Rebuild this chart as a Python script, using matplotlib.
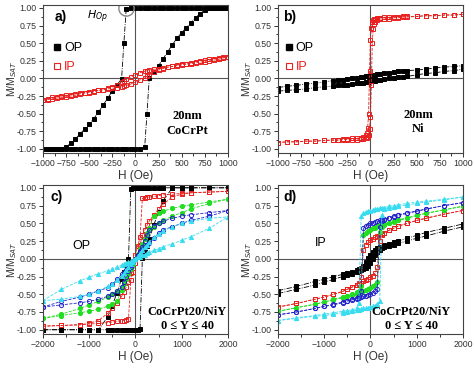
import numpy as np
import matplotlib
matplotlib.use('Agg')
import matplotlib.pyplot as plt
from matplotlib.lines import Line2D

plt.rcParams['font.family'] = ['Liberation Sans', 'DejaVu Sans']

# ---- panel a: 20nm CoCrPt (H in Oe, M/Msat) ----
h_a = [-1000, -950, -900, -850, -800, -750, -700, -650, -600, -550, -500, -450, -400, -350,
       -300, -250, -200, -150, -125, -100, -50, 0, 50, 100, 125, 150, 200, 250, 300, 350,
       400, 450, 500, 550, 600, 650, 700, 750, 800, 850, 900, 950, 1000]
op_a_down = [-1, -1, -1, -1, -1, -0.97, -0.92, -0.86, -0.79, -0.72, -0.65, -0.57, -0.48, -0.38,
             -0.28, -0.18, -0.09, -0.01, 0.5, 0.98, 1, 1, 1, 1, 1, 1, 1, 1, 1, 1,
             1, 1, 1, 1, 1, 1, 1, 1, 1, 1, 1, 1, 1]
op_a_up = [-1, -1, -1, -1, -1, -1, -1, -1, -1, -1, -1, -1, -1, -1,
           -1, -1, -1, -1, -1, -1, -1, -1, -1, -0.98, -0.5, 0.01, 0.09, 0.18, 0.28, 0.38,
           0.48, 0.57, 0.65, 0.72, 0.79, 0.86, 0.92, 0.97, 1, 1, 1, 1, 1]
ip_a_down = [-0.31, -0.3, -0.29, -0.28, -0.27, -0.26, -0.25, -0.24, -0.22, -0.21, -0.2, -0.19,
             -0.17, -0.16, -0.14, -0.12, -0.09, -0.05, -0.03, -0.01, 0.02, 0.05, 0.08, 0.1,
             0.11, 0.12, 0.13, 0.14, 0.15, 0.16, 0.17, 0.18, 0.19, 0.2, 0.21, 0.22, 0.23,
             0.24, 0.25, 0.26, 0.27, 0.29, 0.31]
ip_a_up = [-0.31, -0.29, -0.27, -0.26, -0.25, -0.24, -0.23, -0.22, -0.21, -0.2, -0.19, -0.18,
           -0.17, -0.16, -0.15, -0.14, -0.13, -0.12, -0.11, -0.1, -0.08, -0.05, -0.02, 0.01,
           0.03, 0.05, 0.09, 0.12, 0.14, 0.16, 0.17, 0.19, 0.2, 0.21, 0.22, 0.24, 0.25,
           0.26, 0.27, 0.28, 0.29, 0.3, 0.31]
h_op = -100  # field marked by the circle

# ---- panel b: 20nm Ni ----
h_b = [-1000, -900, -800, -700, -600, -500, -400, -350, -300, -250, -200, -150, -100, -75,
       -50, -40, -30, -20, -10, 0, 10, 20, 30, 40, 50, 75, 100, 150, 200, 250, 300, 350,
       400, 500, 600, 700, 800, 900, 1000]
op_b_down = [-0.13, -0.11, -0.1, -0.08, -0.07, -0.05, -0.03, -0.02, -0.02, -0.01, 0.0, 0.01,
             0.02, 0.02, 0.03, 0.03, 0.03, 0.03, 0.04, 0.04, 0.04, 0.04, 0.05, 0.05, 0.05,
             0.06, 0.06, 0.07, 0.08, 0.09, 0.1, 0.1, 0.11, 0.12, 0.13, 0.15, 0.16, 0.17, 0.18]
op_b_up = [-0.18, -0.17, -0.16, -0.15, -0.13, -0.12, -0.11, -0.1, -0.1, -0.09, -0.08, -0.07,
           -0.06, -0.06, -0.05, -0.05, -0.05, -0.04, -0.04, -0.04, -0.04, -0.03, -0.03, -0.03,
           -0.03, -0.02, -0.02, -0.01, 0.0, 0.01, 0.02, 0.02, 0.03, 0.05, 0.07, 0.08, 0.1,
           0.11, 0.13]
ip_b_down = [-0.91, -0.9, -0.9, -0.89, -0.89, -0.88, -0.87, -0.87, -0.86, -0.86, -0.85, -0.85,
             -0.84, -0.83, -0.8, -0.77, -0.7, -0.5, 0.1, 0.55, 0.72, 0.8, 0.83, 0.84, 0.85,
             0.86, 0.86, 0.87, 0.87, 0.87, 0.87, 0.88, 0.88, 0.88, 0.89, 0.89, 0.9, 0.9, 0.91]
ip_b_up = [-0.91, -0.9, -0.9, -0.89, -0.89, -0.88, -0.88, -0.88, -0.87, -0.87, -0.87, -0.87,
           -0.86, -0.86, -0.85, -0.84, -0.83, -0.8, -0.72, -0.55, -0.1, 0.5, 0.7, 0.77, 0.8,
           0.83, 0.84, 0.85, 0.85, 0.86, 0.86, 0.87, 0.87, 0.88, 0.89, 0.89, 0.9, 0.9, 0.91]

# ---- panels c, d: CoCrPt20/NiY, Y = 0..40 ----
h_cd = [-2000, -1600, -1200, -1000, -800, -600, -500, -400, -300, -250, -200, -150, -100, -50,
        0, 50, 100, 150, 200, 250, 300, 400, 500, 600, 800, 1000, 1200, 1600, 2000]

# OP loops (c)
c_black_down = [-1, -1, -1, -1, -1, -0.82, -0.66, -0.48, -0.28, -0.18, -0.09, -0.01, 0.99, 1,
                1, 1, 1, 1, 1, 1, 1, 1, 1, 1, 1, 1, 1, 1, 1]
c_black_up = [-1, -1, -1, -1, -1, -1, -1, -1, -1, -1, -1, -1, -1, -1,
              -1, -1, -0.99, 0.01, 0.09, 0.18, 0.28, 0.48, 0.66, 0.82, 1, 1, 1, 1, 1]
c_red_down = [-0.95, -0.94, -0.93, -0.91, -0.87, -0.77, -0.7, -0.62, -0.53, -0.47, -0.4, -0.33,
              -0.2, -0.06, 0.06, 0.18, 0.3, 0.85, 0.86, 0.87, 0.87, 0.88, 0.89, 0.9, 0.91,
              0.92, 0.93, 0.94, 0.95]
c_red_up = [-0.95, -0.94, -0.93, -0.92, -0.91, -0.9, -0.89, -0.88, -0.87, -0.87, -0.86, -0.85,
            -0.3, -0.18, -0.06, 0.06, 0.2, 0.33, 0.4, 0.47, 0.53, 0.62, 0.7, 0.77, 0.87,
            0.91, 0.93, 0.94, 0.95]
c_green_down = [-0.84, -0.78, -0.7, -0.65, -0.6, -0.54, -0.5, -0.45, -0.4, -0.34, -0.28, -0.21,
                -0.14, -0.07, 0.0, 0.06, 0.13, 0.2, 0.28, 0.36, 0.44, 0.6, 0.64, 0.67, 0.71,
                0.74, 0.76, 0.8, 0.84]
c_green_up = [-0.84, -0.8, -0.76, -0.74, -0.71, -0.67, -0.64, -0.6, -0.44, -0.36, -0.28, -0.2,
              -0.13, -0.06, 0.0, 0.07, 0.14, 0.21, 0.28, 0.34, 0.4, 0.45, 0.5, 0.54, 0.6,
              0.65, 0.7, 0.78, 0.84]
c_blue_down = [-0.68, -0.6, -0.54, -0.5, -0.45, -0.41, -0.36, -0.29, -0.22, -0.19, -0.16, -0.13,
               -0.09, -0.05, 0.0, 0.05, 0.11, 0.17, 0.25, 0.33, 0.4, 0.46, 0.5, 0.53, 0.57,
               0.6, 0.62, 0.65, 0.68]
c_blue_up = [-0.68, -0.65, -0.62, -0.6, -0.57, -0.53, -0.5, -0.46, -0.4, -0.33, -0.25, -0.17,
             -0.11, -0.05, 0.0, 0.05, 0.09, 0.13, 0.16, 0.19, 0.22, 0.29, 0.36, 0.41, 0.45,
             0.5, 0.54, 0.6, 0.68]
c_cyan_down = [-0.59, -0.43, -0.31, -0.26, -0.21, -0.17, -0.14, -0.12, -0.09, -0.08, -0.06, -0.05,
               -0.03, -0.02, 0.0, 0.04, 0.08, 0.12, 0.16, 0.2, 0.24, 0.3, 0.35, 0.39, 0.45,
               0.5, 0.53, 0.57, 0.59]
c_cyan_up = [-0.59, -0.57, -0.53, -0.5, -0.45, -0.39, -0.35, -0.3, -0.24, -0.2, -0.16, -0.12,
             -0.08, -0.04, 0.0, 0.02, 0.03, 0.05, 0.06, 0.08, 0.09, 0.12, 0.14, 0.17, 0.21,
             0.26, 0.31, 0.43, 0.59]

# IP loops (d)
d_black_down = [-0.45, -0.39, -0.32, -0.29, -0.25, -0.22, -0.2, -0.18, -0.16, -0.15, -0.13, -0.1,
                -0.05, 0.01, 0.06, 0.1, 0.13, 0.15, 0.16, 0.17, 0.19, 0.21, 0.23, 0.25, 0.29,
                0.33, 0.37, 0.43, 0.49]
d_black_up = [-0.49, -0.43, -0.37, -0.33, -0.29, -0.25, -0.23, -0.21, -0.19, -0.17, -0.16, -0.15,
              -0.13, -0.1, -0.06, -0.01, 0.05, 0.1, 0.13, 0.15, 0.16, 0.18, 0.2, 0.22, 0.25,
              0.29, 0.32, 0.39, 0.45]
d_red_down = [-0.68, -0.63, -0.57, -0.54, -0.5, -0.46, -0.43, -0.4, -0.37, -0.34, -0.25, 0.12,
              0.2, 0.24, 0.26, 0.28, 0.3, 0.32, 0.34, 0.35, 0.37, 0.4, 0.43, 0.46, 0.5,
              0.54, 0.57, 0.63, 0.68]
d_red_up = [-0.68, -0.63, -0.57, -0.54, -0.5, -0.46, -0.43, -0.4, -0.37, -0.35, -0.34, -0.32,
            -0.3, -0.28, -0.26, -0.24, -0.2, -0.12, 0.25, 0.34, 0.37, 0.4, 0.43, 0.46, 0.5,
            0.54, 0.57, 0.63, 0.68]
d_green_down = [-0.74, -0.69, -0.64, -0.61, -0.57, -0.54, -0.52, -0.5, -0.47, -0.45, -0.38, 0.33,
                0.37, 0.39, 0.41, 0.43, 0.44, 0.46, 0.47, 0.48, 0.49, 0.51, 0.53, 0.55, 0.58,
                0.61, 0.64, 0.69, 0.74]
d_green_up = [-0.74, -0.69, -0.64, -0.61, -0.58, -0.55, -0.53, -0.51, -0.49, -0.48, -0.47, -0.46,
              -0.44, -0.43, -0.41, -0.39, -0.37, -0.33, 0.38, 0.45, 0.47, 0.5, 0.52, 0.54, 0.57,
              0.61, 0.64, 0.69, 0.74]
d_blue_down = [-0.79, -0.75, -0.7, -0.67, -0.64, -0.61, -0.59, -0.57, -0.55, -0.53, -0.45, 0.43,
               0.46, 0.48, 0.5, 0.51, 0.52, 0.53, 0.54, 0.55, 0.56, 0.58, 0.6, 0.62, 0.65,
               0.67, 0.7, 0.75, 0.79]
d_blue_up = [-0.79, -0.75, -0.7, -0.67, -0.65, -0.62, -0.6, -0.58, -0.56, -0.55, -0.54, -0.53,
             -0.52, -0.51, -0.5, -0.48, -0.46, -0.43, 0.45, 0.53, 0.55, 0.57, 0.59, 0.61, 0.64,
             0.67, 0.7, 0.75, 0.79]
d_cyan_down = [-0.87, -0.83, -0.8, -0.78, -0.76, -0.74, -0.73, -0.72, -0.7, -0.62, 0.6, 0.64,
               0.66, 0.67, 0.68, 0.69, 0.7, 0.7, 0.71, 0.72, 0.72, 0.74, 0.75, 0.76, 0.78,
               0.8, 0.81, 0.84, 0.87]
d_cyan_up = [-0.87, -0.84, -0.81, -0.8, -0.78, -0.76, -0.75, -0.74, -0.72, -0.72, -0.71, -0.7,
             -0.7, -0.69, -0.68, -0.67, -0.66, -0.64, -0.6, 0.62, 0.7, 0.72, 0.73, 0.74, 0.76,
             0.78, 0.8, 0.83, 0.87]

RED = '#e8201e'
GREEN = '#22dd22'
BLUE = '#2222cc'
CYAN = '#38dcf0'

sty = {
    'black': dict(color='black', marker='s', mfc='black', ls='-.'),
    'red': dict(color=RED, marker='s', mfc='none', ls='--'),
    'green': dict(color=GREEN, marker='o', mfc=GREEN, ls='--'),
    'blue': dict(color=BLUE, marker='o', mfc='none', ls='--'),
    'cyan': dict(color=CYAN, marker='^', mfc=CYAN, ls='--'),
}


def loop(ax, h, down, up, key, ms=3.0):
    for m in (down, up):
        ax.plot(h, m, lw=0.6, ms=ms, mew=0.7, mec=sty[key]['color'], **sty[key])


def frame(ax, xmax, xstep, xminor):
    ax.set_xlim(-xmax, xmax)
    ax.set_ylim(-1.06, 1.04)
    ax.axhline(0, color='#555555', lw=0.8, zorder=0)
    ax.axvline(0, color='#555555', lw=0.8, zorder=0)
    ax.set_xticks(np.arange(-xmax, xmax + 1, xstep))
    ax.set_xticks(np.arange(-xmax, xmax + 1, xminor), minor=True)
    ax.set_yticks(np.arange(-1, 1.01, 0.25))
    ax.set_yticks(np.arange(-1, 1.01, 0.125), minor=True)
    ax.yaxis.set_major_formatter(matplotlib.ticker.FormatStrFormatter('%.2f'))
    ax.tick_params(which='both', direction='out', labelsize=6.3, colors='#333333', width=0.7,
                   pad=1.5)
    ax.tick_params(which='major', length=3)
    ax.tick_params(which='minor', length=1.8)
    for s in ax.spines.values():
        s.set_color('#444444')
        s.set_linewidth(0.8)
    ax.set_xlabel('H (Oe)', fontsize=8.5, color='#333333', labelpad=1)
    ax.set_ylabel('M/M$_{SAT}$', fontsize=7.5, color='#333333')
    ax.yaxis.set_label_coords(-0.13, 0.5)


def legend(ax, x, y):
    hs = [Line2D([], [], ls='none', marker='s', color='black', ms=4),
          Line2D([], [], ls='none', marker='s', color=RED, mfc='none', ms=4, mew=0.8)]
    leg = ax.legend(hs, ['OP', 'IP'], loc='upper left', bbox_to_anchor=(x, y), frameon=False,
                    handlelength=0.5, handletextpad=0.3, labelspacing=0.55, fontsize=9,
                    borderpad=0, borderaxespad=0)
    leg.get_texts()[1].set_color(RED)


serif = dict(family=['Liberation Serif', 'DejaVu Serif'], weight='bold', fontsize=9,
             ha='center', va='center', linespacing=1.3)

fig = plt.figure(figsize=(4.74, 3.68), dpi=100)
ax_a = fig.add_axes([0.0907, 0.584, 0.390, 0.402])
ax_b = fig.add_axes([0.5865, 0.584, 0.390, 0.402])
ax_c = fig.add_axes([0.0907, 0.0924, 0.390, 0.405])
ax_d = fig.add_axes([0.5865, 0.0924, 0.390, 0.405])

# a)
frame(ax_a, 1000, 250, 125)
loop(ax_a, h_a, op_a_down, op_a_up, 'black')
loop(ax_a, h_a, ip_a_down, ip_a_up, 'red')
ax_a.plot([h_op], [1.0], marker='o', ms=11, mfc='none', mec='#888888', mew=1.0, ls='none')
ax_a.annotate('$H_{Op}$', xy=(h_op, 1.0), xytext=(-13, -6), textcoords='offset points',
              fontsize=8, ha='right', va='center')
ax_a.text(0.065, 0.92, 'a)', transform=ax_a.transAxes, fontsize=10, fontweight='bold', va='center')
legend(ax_a, 0.06, 0.75)
ax_a.text(0.78, 0.2, '20nm\nCoCrPt', transform=ax_a.transAxes, **serif)

# b)
frame(ax_b, 1000, 250, 125)
loop(ax_b, h_b, op_b_down, op_b_up, 'black')
loop(ax_b, h_b, ip_b_down, ip_b_up, 'red')
ax_b.text(0.03, 0.92, 'b)', transform=ax_b.transAxes, fontsize=10, fontweight='bold', va='center')
legend(ax_b, 0.04, 0.75)
ax_b.text(0.76, 0.21, '20nm\nNi', transform=ax_b.transAxes, **serif)

# c)
frame(ax_c, 2000, 1000, 500)
loop(ax_c, h_cd, c_black_down, c_black_up, 'black')
loop(ax_c, h_cd, c_red_down, c_red_up, 'red')
loop(ax_c, h_cd, c_green_down, c_green_up, 'green')
loop(ax_c, h_cd, c_blue_down, c_blue_up, 'blue')
loop(ax_c, h_cd, c_cyan_down, c_cyan_up, 'cyan')
ax_c.text(0.04, 0.92, 'c)', transform=ax_c.transAxes, fontsize=10, fontweight='bold', va='center')
ax_c.text(0.16, 0.59, 'OP', transform=ax_c.transAxes, fontsize=9, va='center')
ax_c.text(0.78, 0.1, 'CoCrPt20/NiY\n0 \u2264 Y \u2264 40', transform=ax_c.transAxes, **serif)

# d)
frame(ax_d, 2000, 1000, 500)
loop(ax_d, h_cd, d_black_down, d_black_up, 'black')
loop(ax_d, h_cd, d_red_down, d_red_up, 'red')
loop(ax_d, h_cd, d_green_down, d_green_up, 'green')
loop(ax_d, h_cd, d_blue_down, d_blue_up, 'blue')
loop(ax_d, h_cd, d_cyan_down, d_cyan_up, 'cyan')
ax_d.text(0.03, 0.92, 'd)', transform=ax_d.transAxes, fontsize=10, fontweight='bold', va='center')
ax_d.text(0.2, 0.61, 'IP', transform=ax_d.transAxes, fontsize=9, va='center')
ax_d.text(0.72, 0.1, 'CoCrPt20/NiY\n0 \u2264 Y \u2264 40', transform=ax_d.transAxes, **serif)

fig.savefig('out.png', dpi=100)
